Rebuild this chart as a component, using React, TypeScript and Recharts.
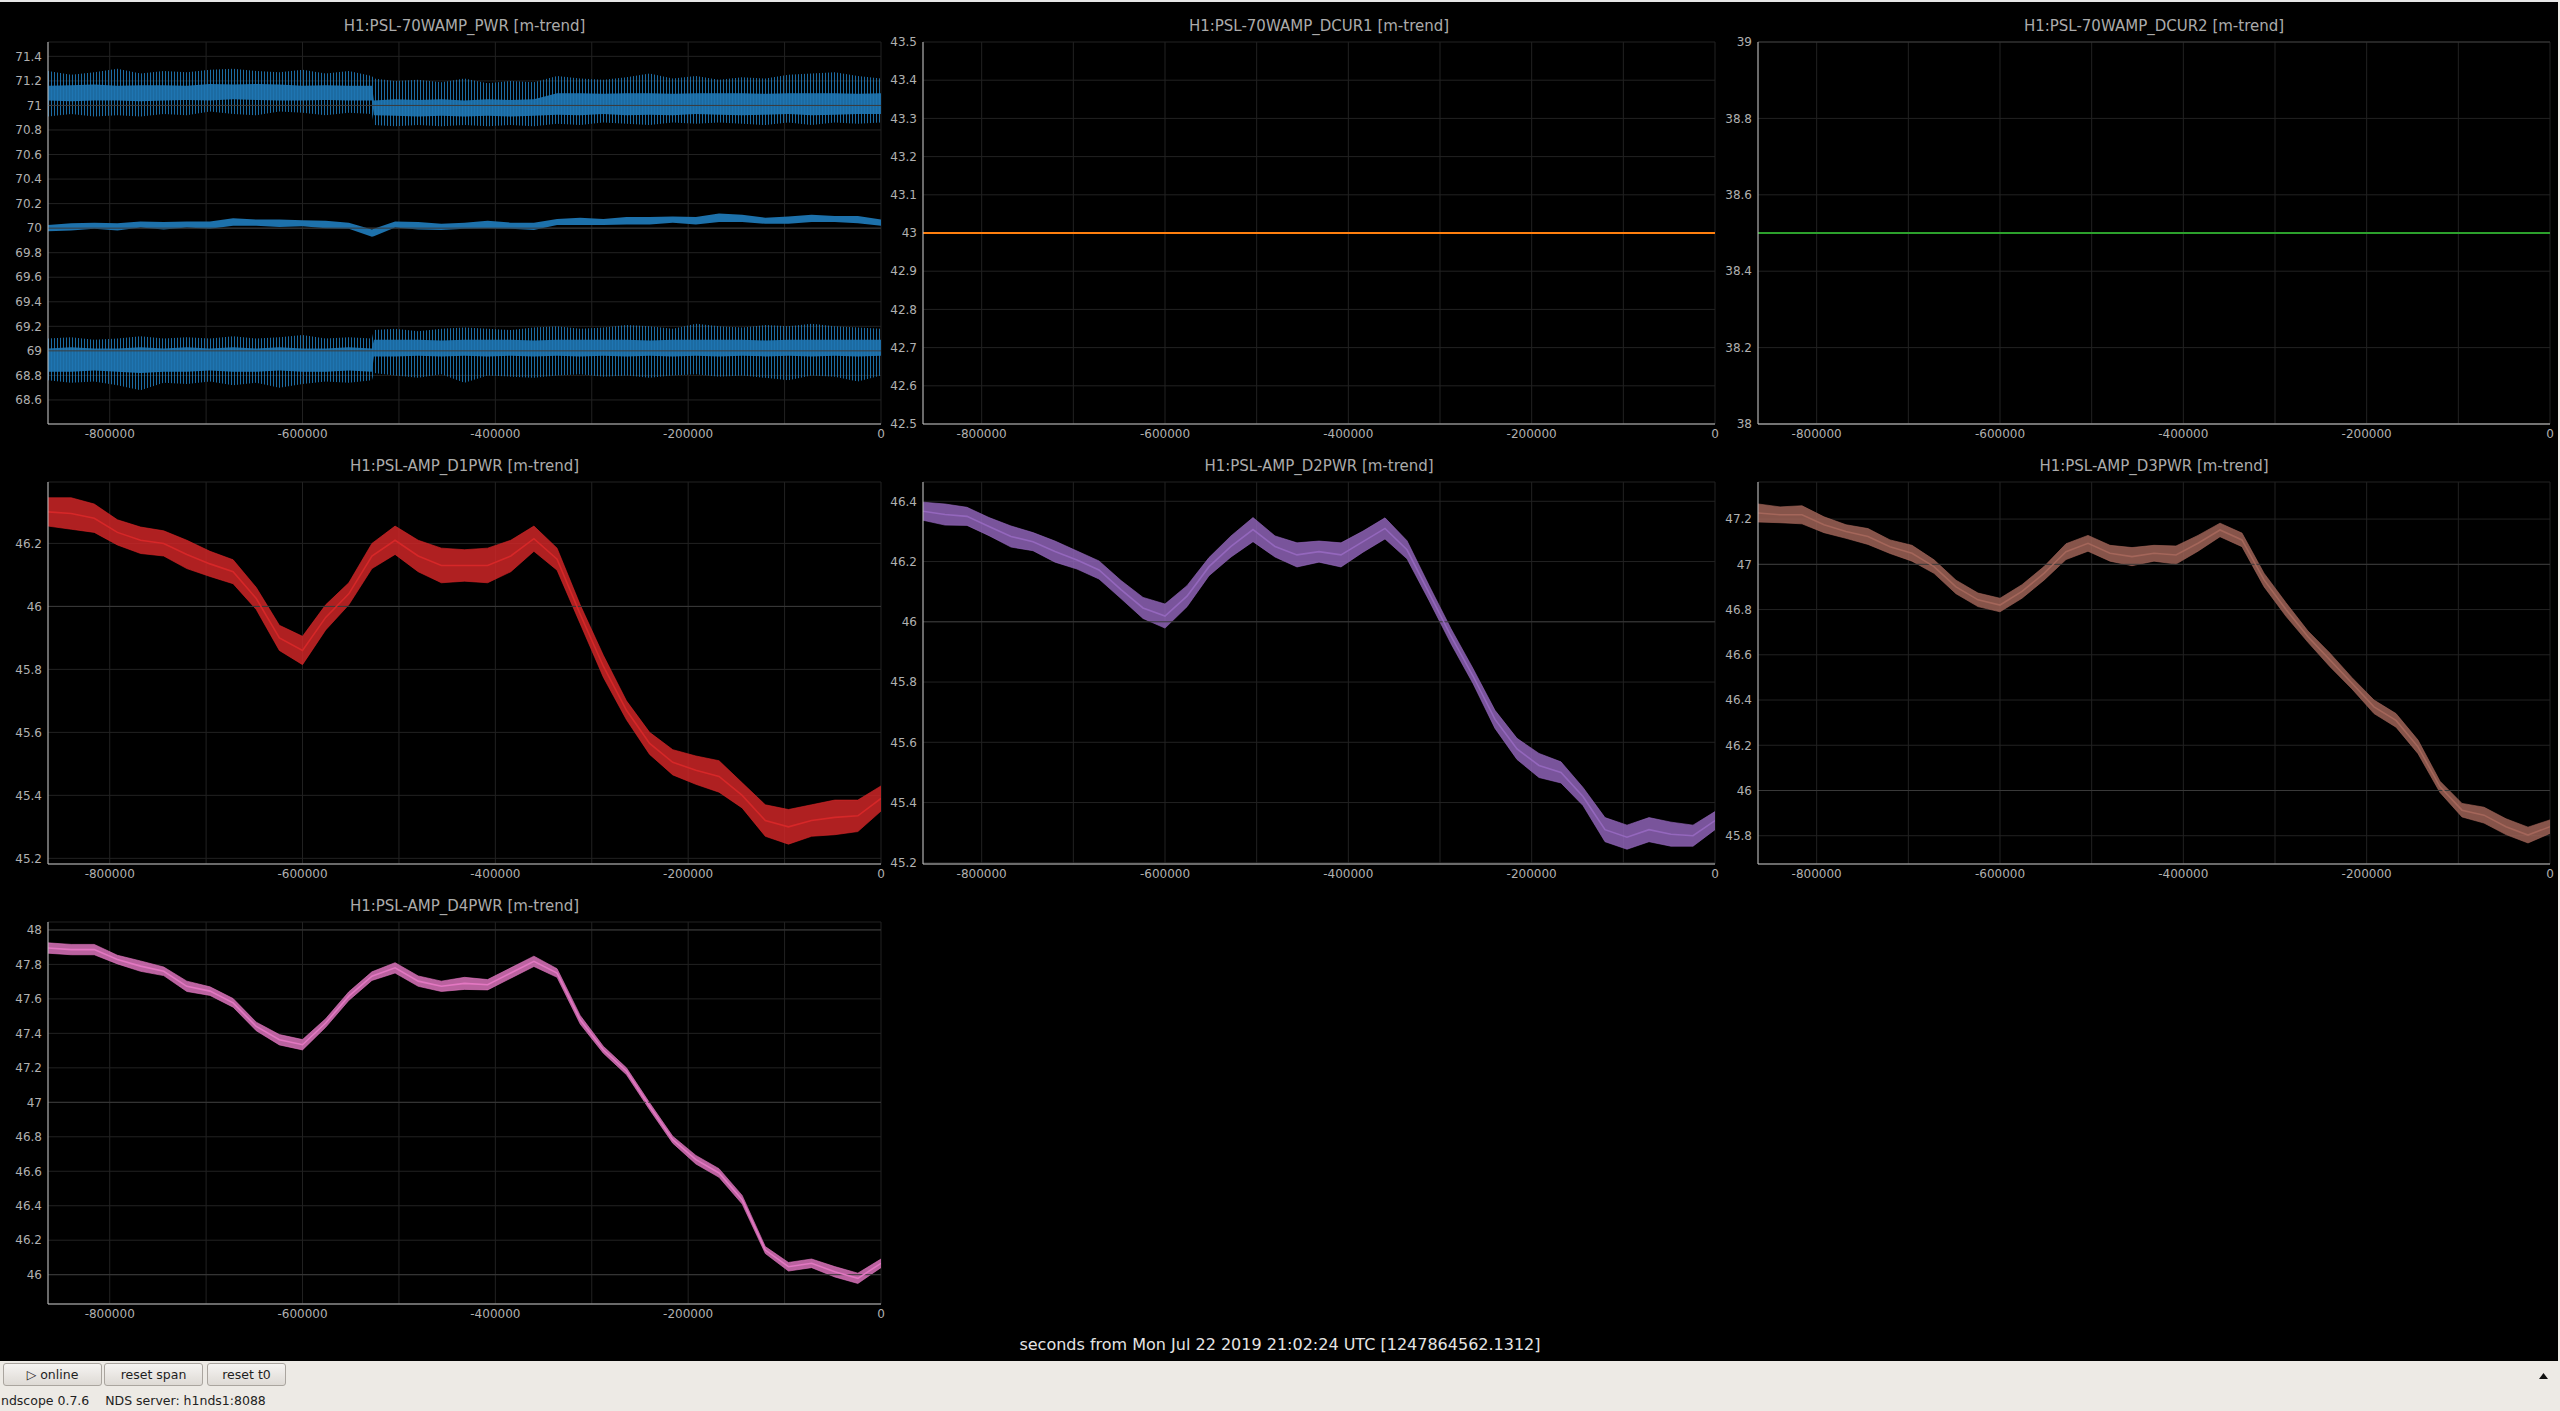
import { ComposedChart, Line, Area, XAxis, YAxis, CartesianGrid, ReferenceLine } from 'recharts';

// seconds relative to t0, one sample every 24000 s over 10 days
const TIME = [
  -864000, -840000, -816000, -792000, -768000, -744000, -720000, -696000, -672000, -648000,
  -624000, -600000, -576000, -552000, -528000, -504000, -480000, -456000, -432000, -408000,
  -384000, -360000, -336000, -312000, -288000, -264000, -240000, -216000, -192000, -168000,
  -144000, -120000, -96000, -72000, -48000, -24000, 0,
];

// PWR has a step at about -527000, so it gets one extra sample
const PWR_TIME = [
  -864000, -840000, -816000, -792000, -768000, -744000, -720000, -696000, -672000, -648000,
  -624000, -600000, -576000, -552000, -528000, -526000, -504000, -480000, -456000, -432000,
  -408000, -384000, -360000, -336000, -312000, -288000, -264000, -240000, -216000, -192000,
  -168000, -144000, -120000, -96000, -72000, -48000, -24000, 0,
];

const PWR_MEAN = [
  70.0, 70.01, 70.02, 70.01, 70.03, 70.02, 70.03, 70.025, 70.05, 70.045,
  70.04, 70.04, 70.03, 70.02, 69.96, 69.965, 70.03, 70.02, 70.01, 70.02,
  70.03, 70.02, 70.015, 70.05, 70.055, 70.05, 70.06, 70.06, 70.07, 70.06,
  70.085, 70.08, 70.06, 70.065, 70.08, 70.075, 70.07, 70.045,
];
const PWR_MEAN_SPREAD = [
  0.025, 0.03, 0.025, 0.03, 0.025, 0.03, 0.025, 0.03, 0.03, 0.025,
  0.03, 0.025, 0.03, 0.025, 0.03, 0.03, 0.025, 0.03, 0.025, 0.025,
  0.03, 0.025, 0.03, 0.025, 0.03, 0.025, 0.03, 0.03, 0.025, 0.03,
  0.035, 0.03, 0.025, 0.03, 0.03, 0.025, 0.03, 0.025,
];
const PWR_MAX_LO = [
  71.04, 71.035, 71.04, 71.04, 71.035, 71.04, 71.045, 71.04, 71.05, 71.045,
  71.04, 71.04, 71.045, 71.04, 71.04, 70.92, 70.915, 70.91, 70.915, 70.91,
  70.915, 70.91, 70.915, 70.925, 70.92, 70.93, 70.92, 70.925, 70.92, 70.93,
  70.925, 70.92, 70.925, 70.93, 70.92, 70.925, 70.93, 70.93,
];
const PWR_MAX_HI = [
  71.16, 71.165, 71.17, 71.16, 71.165, 71.165, 71.16, 71.175, 71.17, 71.175,
  71.17, 71.16, 71.165, 71.16, 71.16, 71.04, 71.05, 71.045, 71.05, 71.04,
  71.05, 71.045, 71.05, 71.1, 71.1, 71.095, 71.1, 71.1, 71.095, 71.1,
  71.1, 71.1, 71.095, 71.1, 71.1, 71.1, 71.095, 71.1,
];
const PWR_MAX_SPIKE_LO = [
  70.91, 70.93, 70.91, 70.92, 70.91, 70.93, 70.92, 70.95, 70.93, 70.92,
  70.95, 70.94, 70.92, 70.94, 70.93, 70.84, 70.83, 70.84, 70.83, 70.84,
  70.83, 70.84, 70.83, 70.85, 70.84, 70.86, 70.85, 70.84, 70.86, 70.85,
  70.86, 70.85, 70.84, 70.86, 70.84, 70.86, 70.85, 70.86,
];
const PWR_MAX_SPIKE_HI = [
  71.28, 71.25, 71.27, 71.3, 71.26, 71.28, 71.27, 71.29, 71.3, 71.28,
  71.27, 71.29, 71.26, 71.28, 71.24, 71.22, 71.2, 71.21, 71.19, 71.22,
  71.18, 71.2, 71.19, 71.24, 71.22, 71.21, 71.23, 71.26, 71.22, 71.24,
  71.21, 71.23, 71.22, 71.25, 71.26, 71.27, 71.24, 71.22,
];
const PWR_MIN_LO = [
  68.83, 68.83, 68.84, 68.83, 68.82, 68.83, 68.83, 68.84, 68.83, 68.83,
  68.84, 68.83, 68.83, 68.84, 68.83, 68.955, 68.955, 68.96, 68.955, 68.96,
  68.955, 68.96, 68.955, 68.96, 68.955, 68.96, 68.955, 68.96, 68.955, 68.96,
  68.955, 68.96, 68.955, 68.96, 68.955, 68.96, 68.955, 68.96,
];
const PWR_MIN_HI = [
  69.02, 69.03, 69.02, 69.02, 69.03, 69.02, 69.03, 69.02, 69.03, 69.02,
  69.03, 69.02, 69.02, 69.03, 69.02, 69.09, 69.09, 69.09, 69.085, 69.09,
  69.09, 69.09, 69.085, 69.09, 69.09, 69.09, 69.09, 69.085, 69.09, 69.09,
  69.09, 69.09, 69.085, 69.09, 69.09, 69.09, 69.09, 69.09,
];
const PWR_MIN_SPIKE_LO = [
  68.76, 68.74, 68.75, 68.72, 68.68, 68.74, 68.73, 68.75, 68.72, 68.74,
  68.7, 68.73, 68.75, 68.74, 68.76, 68.82, 68.8, 68.78, 68.81, 68.74,
  68.8, 68.79, 68.78, 68.8, 68.81, 68.79, 68.8, 68.78, 68.8, 68.81,
  68.79, 68.8, 68.78, 68.76, 68.8, 68.79, 68.75, 68.8,
];
const PWR_MIN_SPIKE_HI = [
  69.1, 69.11, 69.09, 69.1, 69.12, 69.1, 69.11, 69.1, 69.12, 69.1,
  69.11, 69.13, 69.1, 69.11, 69.1, 69.17, 69.18, 69.16, 69.18, 69.19,
  69.18, 69.17, 69.19, 69.2, 69.18, 69.19, 69.21, 69.2, 69.18, 69.22,
  69.2, 69.19, 69.21, 69.2, 69.22, 69.2, 69.19, 69.18,
];

const DCUR_TIME = [-864000, 0];
const DCUR1_VALUES = [43, 43];
const DCUR2_VALUES = [38.5, 38.5];

const D1_MEAN = [
  46.3, 46.295, 46.28, 46.235, 46.21, 46.2, 46.165, 46.135, 46.11, 46.025,
  45.9, 45.86, 45.965, 46.04, 46.16, 46.21, 46.16, 46.13, 46.13, 46.13,
  46.16, 46.215, 46.15, 45.975, 45.81, 45.67, 45.565, 45.505, 45.48, 45.46,
  45.4, 45.32, 45.3, 45.32, 45.33, 45.335, 45.39,
];
const D1_SPREAD = [
  0.045, 0.05, 0.045, 0.04, 0.042, 0.04, 0.045, 0.04, 0.038, 0.035,
  0.04, 0.045, 0.04, 0.035, 0.04, 0.045, 0.05, 0.055, 0.05, 0.055,
  0.05, 0.04, 0.035, 0.03, 0.035, 0.03, 0.035, 0.04, 0.045, 0.05,
  0.04, 0.05, 0.055, 0.05, 0.055, 0.05, 0.04,
];
const D2_MEAN = [
  46.367, 46.356, 46.35, 46.316, 46.283, 46.266, 46.233, 46.205, 46.172, 46.107,
  46.046, 46.019, 46.085, 46.183, 46.25, 46.306, 46.25, 46.222, 46.233, 46.222,
  46.266, 46.31, 46.239, 46.096, 45.952, 45.82, 45.676, 45.578, 45.523, 45.5,
  45.42, 45.31, 45.285, 45.31, 45.295, 45.29, 45.34,
];
const D2_SPREAD = [
  0.03, 0.035, 0.03, 0.03, 0.035, 0.03, 0.035, 0.03, 0.03, 0.03,
  0.035, 0.04, 0.035, 0.03, 0.035, 0.04, 0.035, 0.04, 0.035, 0.04,
  0.035, 0.035, 0.03, 0.025, 0.025, 0.025, 0.03, 0.035, 0.04, 0.035,
  0.03, 0.04, 0.04, 0.04, 0.04, 0.035, 0.03,
];
const D3_MEAN = [
  47.227, 47.219, 47.219, 47.175, 47.145, 47.123, 47.078, 47.049, 46.99, 46.9,
  46.843, 46.82, 46.88, 46.96, 47.056, 47.093, 47.049, 47.034, 47.049, 47.041,
  47.093, 47.152, 47.108, 46.931, 46.8, 46.68, 46.577, 46.474, 46.37, 46.31,
  46.193, 46.016, 45.913, 45.891, 45.84, 45.803, 45.84,
];
const D3_SPREAD = [
  0.04, 0.035, 0.04, 0.035, 0.03, 0.035, 0.03, 0.035, 0.03, 0.03,
  0.03, 0.03, 0.03, 0.03, 0.035, 0.035, 0.035, 0.04, 0.035, 0.04,
  0.035, 0.03, 0.03, 0.03, 0.03, 0.025, 0.03, 0.025, 0.03, 0.03,
  0.03, 0.025, 0.03, 0.035, 0.035, 0.035, 0.03,
];
const D4_MEAN = [
  47.895, 47.886, 47.886, 47.828, 47.79, 47.76, 47.673, 47.645, 47.577, 47.44,
  47.363, 47.334, 47.46, 47.616, 47.732, 47.78, 47.703, 47.673, 47.69, 47.682,
  47.75, 47.818, 47.75, 47.479, 47.305, 47.18, 46.977, 46.783, 46.667, 46.59,
  46.435, 46.143, 46.046, 46.066, 46.017, 45.979, 46.066,
];
const D4_SPREAD = [
  0.03, 0.03, 0.03, 0.025, 0.03, 0.025, 0.03, 0.025, 0.025, 0.025,
  0.03, 0.03, 0.025, 0.025, 0.025, 0.03, 0.03, 0.03, 0.035, 0.03,
  0.03, 0.03, 0.025, 0.025, 0.02, 0.02, 0.02, 0.02, 0.025, 0.025,
  0.025, 0.02, 0.025, 0.025, 0.03, 0.03, 0.025,
];

const X_TICKS = [-800000, -700000, -600000, -500000, -400000, -300000, -200000, -100000, 0];
const PWR_TICKS = [68.6, 68.8, 69, 69.2, 69.4, 69.6, 69.8, 70, 70.2, 70.4, 70.6, 70.8, 71, 71.2, 71.4];
const DCUR1_TICKS = [42.5, 42.6, 42.7, 42.8, 42.9, 43, 43.1, 43.2, 43.3, 43.4, 43.5];
const DCUR2_TICKS = [38, 38.2, 38.4, 38.6, 38.8, 39];
const D1_TICKS = [45.2, 45.4, 45.6, 45.8, 46, 46.2];
const D2_TICKS = [45.2, 45.4, 45.6, 45.8, 46, 46.2, 46.4];
const D3_TICKS = [45.8, 46, 46.2, 46.4, 46.6, 46.8, 47, 47.2];
const D4_TICKS = [46, 46.2, 46.4, 46.6, 46.8, 47, 47.2, 47.4, 47.6, 47.8, 48];

const FONT = '"DejaVu Sans", sans-serif';
const TICK_COLOR = '#b0b0b0';
const AXIS_COLOR = '#c4c4c4';
const PLOT_H = 382;
const BLUE = '#1f77b4';

const fmtX = (v: number) => (v % 200000 === 0 ? String(v) : '');
const fmtY = (v: number) => String(Math.round(v * 10) / 10);

const driftRows = (mean: number[], spread: number[]) =>
  TIME.map((t, i) => ({ t, mean: mean[i], band: [mean[i] - spread[i], mean[i] + spread[i]] }));

const pwrRows = PWR_TIME.map((t, i) => ({
  t,
  mean: PWR_MEAN[i],
  meanBand: [PWR_MEAN[i] - PWR_MEAN_SPREAD[i], PWR_MEAN[i] + PWR_MEAN_SPREAD[i]],
  maxBand: [PWR_MAX_LO[i], PWR_MAX_HI[i]],
  maxSpike: [PWR_MAX_SPIKE_LO[i], PWR_MAX_SPIKE_HI[i]],
  minBand: [PWR_MIN_LO[i], PWR_MIN_HI[i]],
  minSpike: [PWR_MIN_SPIKE_LO[i], PWR_MIN_SPIKE_HI[i]],
}));

const dcurRows = DCUR_TIME.map((t, i) => ({ t, a: DCUR1_VALUES[i], b: DCUR2_VALUES[i] }));

type PanelProps = {
  title: string;
  left: number; // plot area left edge
  top: number; // plot area top edge
  width: number; // plot area width
  yw: number;
  domain: [number, number];
  yTicks: number[];
  majors: number[];
  data: object[];
  children: React.ReactNode;
};

function Panel({ title, left, top, width, yw, domain, yTicks, majors, data, children }: PanelProps) {
  return (
    <>
      <div
        style={{
          position: 'absolute', left, top: top - 25, width, textAlign: 'center',
          fontFamily: FONT, fontSize: 15, lineHeight: '18px', color: '#ababab', whiteSpace: 'nowrap',
        }}
      >
        {title}
      </div>
      <div style={{ position: 'absolute', left: left - yw, top: top - 10 }}>
        <ComposedChart
          width={yw + width + 10}
          height={10 + PLOT_H + 30}
          data={data}
          margin={{ top: 10, right: 10, bottom: 0, left: 0 }}
        >
          <defs>
            <pattern id="hatch-blue" width="3" height="6" patternUnits="userSpaceOnUse">
              <rect width="1" height="6" fill={BLUE} />
            </pattern>
          </defs>
          <CartesianGrid stroke="#222222" />
          {majors.map((m) => (
            <ReferenceLine key={m} y={m} stroke="#3a3a3a" />
          ))}
          <XAxis
            dataKey="t"
            type="number"
            domain={[-864000, 0]}
            ticks={X_TICKS}
            interval={0}
            tickFormatter={fmtX}
            allowDataOverflow
            height={30}
            tickLine={false}
            tickSize={0}
            tickMargin={5}
            stroke={AXIS_COLOR}
            tick={{ fill: TICK_COLOR, fontSize: 12, fontFamily: FONT }}
          />
          <YAxis
            type="number"
            domain={domain}
            ticks={yTicks}
            interval={0}
            tickFormatter={fmtY}
            allowDataOverflow
            width={yw}
            tickLine={false}
            tickSize={0}
            tickMargin={6}
            stroke={AXIS_COLOR}
            tick={{ fill: TICK_COLOR, fontSize: 12, fontFamily: FONT }}
          />
          {children}
        </ComposedChart>
      </div>
    </>
  );
}

const drift = (color: string) => [
  <Area
    key="band"
    dataKey="band"
    type="linear"
    stroke={color}
    strokeOpacity={0.6}
    strokeWidth={1}
    fill={color}
    fillOpacity={0.82}
    isAnimationActive={false}
    dot={false}
    activeDot={false}
  />,
  <Line
    key="mean"
    dataKey="mean"
    type="linear"
    stroke={color}
    strokeWidth={1.6}
    dot={false}
    activeDot={false}
    isAnimationActive={false}
  />,
];

const pwrArea = (key: string, fill: string, opacity: number) => (
  <Area
    key={key}
    dataKey={key}
    type="linear"
    stroke="none"
    fill={fill}
    fillOpacity={opacity}
    isAnimationActive={false}
    dot={false}
    activeDot={false}
  />
);

function Button({ left, width, label }: { left: number; width: number; label: string }) {
  return (
    <div
      style={{
        position: 'absolute', left, top: 1363, width, height: 23, boxSizing: 'border-box',
        border: '1px solid #aaa59f', borderRadius: 3,
        background: 'linear-gradient(#f6f4f2, #dedad5)',
        fontFamily: FONT, fontSize: 12.5, lineHeight: '21px', textAlign: 'center', color: '#1e1e1e',
      }}
    >
      {label}
    </div>
  );
}

export default function App() {
  const ROW = [42, 482, 922];
  return (
    <div
      style={{
        position: 'absolute', left: 0, top: 0, width: 2560, height: 1411,
        background: '#000', overflow: 'hidden',
      }}
    >
      <div style={{ position: 'absolute', left: 0, top: 0, width: 2560, height: 2, background: '#e6e6e6' }} />

      <Panel title="H1:PSL-70WAMP_PWR [m-trend]" left={48} top={ROW[0]} width={833} yw={48}
        domain={[68.404, 71.517]} yTicks={PWR_TICKS} majors={[69, 70, 71]} data={pwrRows}>
        {pwrArea('maxSpike', 'url(#hatch-blue)', 0.9)}
        {pwrArea('maxBand', BLUE, 0.9)}
        {pwrArea('minSpike', 'url(#hatch-blue)', 0.9)}
        {pwrArea('minBand', BLUE, 0.9)}
        {pwrArea('meanBand', BLUE, 0.95)}
      </Panel>

      <Panel title="H1:PSL-70WAMP_DCUR1 [m-trend]" left={923} top={ROW[0]} width={792} yw={40}
        domain={[42.5, 43.5]} yTicks={DCUR1_TICKS} majors={[43]} data={dcurRows}>
        <Line dataKey="a" type="linear" stroke="#ff7f0e" strokeWidth={2} dot={false} activeDot={false} isAnimationActive={false} />
      </Panel>

      <Panel title="H1:PSL-70WAMP_DCUR2 [m-trend]" left={1758} top={ROW[0]} width={792} yw={40}
        domain={[38, 39]} yTicks={DCUR2_TICKS} majors={[38, 39]} data={dcurRows}>
        <Line dataKey="b" type="linear" stroke="#2ca02c" strokeWidth={2} dot={false} activeDot={false} isAnimationActive={false} />
      </Panel>

      <Panel title="H1:PSL-AMP_D1PWR [m-trend]" left={48} top={ROW[1]} width={833} yw={48}
        domain={[45.182, 46.395]} yTicks={D1_TICKS} majors={[46]} data={driftRows(D1_MEAN, D1_SPREAD)}>
        {drift('#d62728')}
      </Panel>

      <Panel title="H1:PSL-AMP_D2PWR [m-trend]" left={923} top={ROW[1]} width={792} yw={40}
        domain={[45.196, 46.464]} yTicks={D2_TICKS} majors={[46]} data={driftRows(D2_MEAN, D2_SPREAD)}>
        {drift('#9467bd')}
      </Panel>

      <Panel title="H1:PSL-AMP_D3PWR [m-trend]" left={1758} top={ROW[1]} width={792} yw={40}
        domain={[45.675, 47.364]} yTicks={D3_TICKS} majors={[46, 47]} data={driftRows(D3_MEAN, D3_SPREAD)}>
        {drift('#a4665a')}
      </Panel>

      <Panel title="H1:PSL-AMP_D4PWR [m-trend]" left={48} top={ROW[2]} width={833} yw={48}
        domain={[45.83, 48.046]} yTicks={D4_TICKS} majors={[46, 47, 48]} data={driftRows(D4_MEAN, D4_SPREAD)}>
        {drift('#e377c2')}
      </Panel>

      <div
        style={{
          position: 'absolute', left: 0, top: 1335, width: 2560, textAlign: 'center',
          fontFamily: FONT, fontSize: 16, lineHeight: '20px', color: '#e4e4e4',
        }}
      >
        seconds from Mon Jul 22 2019 21:02:24 UTC [1247864562.1312]
      </div>

      <div style={{ position: 'absolute', left: 0, top: 1361, width: 2560, height: 50, background: '#edeae5' }} />
      <div style={{ position: 'absolute', left: 2558, top: 0, width: 2, height: 1411, background: '#edeae5' }} />
      <Button left={3} width={99} label="▷ online" />
      <Button left={104} width={99} label="reset span" />
      <Button left={207} width={79} label="reset t0" />
      <div
        style={{
          position: 'absolute', left: 1, top: 1393, fontFamily: FONT, fontSize: 12.5,
          lineHeight: '16px', color: '#222', whiteSpace: 'pre',
        }}
      >
        {'ndscope 0.7.6    NDS server: h1nds1:8088'}
      </div>
      <svg style={{ position: 'absolute', left: 2539, top: 1373 }} width={9} height={6}>
        <polygon points="4.5,0 9,6 0,6" fill="#111" />
      </svg>
    </div>
  );
}
